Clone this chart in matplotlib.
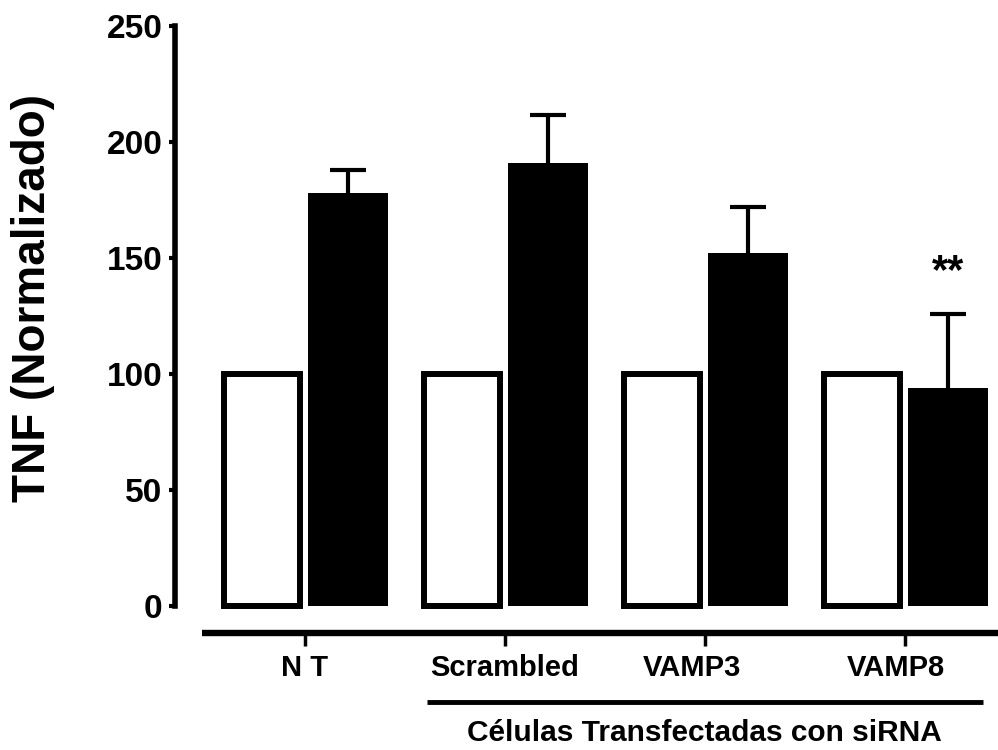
import matplotlib
matplotlib.use("Agg")
import matplotlib.pyplot as plt
import matplotlib.transforms as mtransforms
import numpy as np

plt.rcParams['font.family'] = ['Liberation Sans', 'DejaVu Sans']
plt.rcParams['font.weight'] = 'bold'

categories = ["N T", "Scrambled", "VAMP3", "VAMP8"]
control_values = [100, 100, 100, 100]
treated_values = [178, 191, 152, 94]
treated_err = [10, 20.5, 20, 32]
yticks = [0, 50, 100, 150, 200, 250]
group_label = "Células Transfectadas con siRNA"
ylabel = "TNF (Normalizado)"
signif = {3: "**"}

W, H = 998, 750
fig = plt.figure(figsize=(W / 100, H / 100), dpi=100)
y0_px, y250_px = 606, 26
left_px, right_px = 175, 998
ax = fig.add_axes([left_px / W, (H - y0_px) / H, (right_px - left_px) / W, (y0_px - y250_px) / H])

x = np.arange(len(categories))
px_per_unit = 200.0
center0_px = 304.5

ax.bar(x - 0.2135, control_values, width=0.3775, color='white', edgecolor='black',
       linewidth=4.3, clip_on=False, zorder=3)
ax.bar(x + 0.219, treated_values, width=0.40, color='black', edgecolor='none',
       clip_on=False, zorder=3)
eb = ax.errorbar(x + 0.219, treated_values, yerr=[np.zeros(len(x)), treated_err], fmt='none',
                 ecolor='black', elinewidth=3, capsize=13, capthick=3, clip_on=False, zorder=2)
caplines = eb.lines[1]
if len(caplines) >= 2:
    caplines[0].set_visible(False)

for i, s in signif.items():
    ax.text(x[i] + 0.219, 139, s, ha='center', va='baseline', fontsize=30, fontweight='bold')

ax.set_ylim(0, 250)
ax.set_xlim((left_px - center0_px) / px_per_unit, (right_px - center0_px) / px_per_unit)

for s in ['top', 'right']:
    ax.spines[s].set_visible(False)
ax.spines['left'].set_linewidth(4)
ax.spines['left'].set_bounds(0, 250)
ax.spines['bottom'].set_position(('outward', 19.5))
ax.spines['bottom'].set_linewidth(4.6)
ax.spines['bottom'].set_bounds((202 - center0_px) / px_per_unit, (right_px - center0_px) / px_per_unit)
ax.spines['bottom'].set_capstyle('butt')

ax.set_yticks(yticks)
ax.set_yticklabels([str(v) for v in yticks], fontsize=24, fontweight='bold')
ax.set_xticks(x)
ax.set_xticklabels(categories, fontsize=21, fontweight='bold')

ax.tick_params(axis='y', direction='out', length=4, width=3, pad=5, labelsize=24)
ax.tick_params(axis='x', direction='out', length=9, width=2.5, pad=6, labelsize=21)

# small horizontal shifts of tick labels as in the reference
label_shift_px = [0, 0, -13, -9]
for lab, dx in zip(ax.get_xticklabels(), label_shift_px):
    lab.set_transform(lab.get_transform() + mtransforms.ScaledTranslation(dx / 100, 0, fig.dpi_scale_trans))

trans = mtransforms.blended_transform_factory(ax.transData, fig.transFigure)
x_a = (427 - center0_px) / px_per_unit
x_b = (983 - center0_px) / px_per_unit
ax.plot([x_a, x_b], [(H - 702) / H] * 2, color='black', linewidth=3.5, transform=trans,
        clip_on=False, solid_capstyle='butt')
ax.text(2, (H - 733) / H, group_label, transform=trans, ha='center', va='center',
        fontsize=21.5, fontweight='bold')

fig.text(33 / W, (H - 298) / H, ylabel, rotation=90, ha='center', va='center',
         fontsize=33, fontweight='bold')

fig.savefig("out.png", dpi=100)
